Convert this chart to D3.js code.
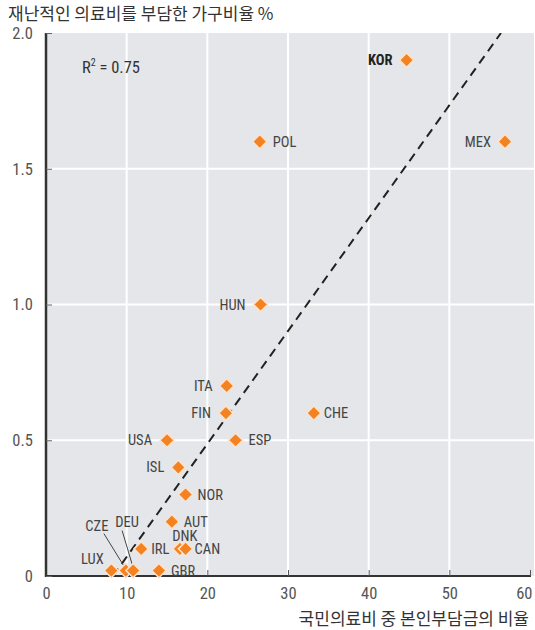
<!DOCTYPE html>
<html><head><meta charset="utf-8">
<script src="https://cdn.jsdelivr.net/npm/d3@7"></script>
<style>body{margin:0;background:#fff}svg{display:block}</style>
</head><body>
<script>
const countries = ["KOR","POL","MEX","HUN","ITA","FIN","CHE","USA","ESP","ISL","NOR","AUT","IRL","DNK","CAN","LUX","CZE","DEU","GBR"];
const oopShare = [44.7,26.5,56.9,26.6,22.4,22.3,33.2,15.0,23.5,16.4,17.3,15.6,11.8,16.6,17.3,8.1,9.9,10.8,14.0];
const catastrophic = [1.90,1.60,1.60,1.00,0.70,0.60,0.60,0.50,0.50,0.40,0.30,0.20,0.10,0.10,0.10,0.02,0.02,0.02,0.02];
const xTicks = [0,10,20,30,40,50,60];
const yTicks = [0,0.5,1.0,1.5,2.0];
const yTickLabels = ["0","0.5","1.0","1.5","2.0"];
const fitX = [8.3,56.4];
const fitY = [0,2.0];
const r2Text = "0.75";
const yTitle = "재난적인 의료비를 부담한 가구비율 %";
const xTitle = "국민의료비 중 본인부담금의 비율";

// label placement (style only)
const place = {
  KOR:{dx:-14,dy:5,a:"end",bold:true}, POL:{dx:13,dy:5,a:"start"}, MEX:{dx:-14,dy:5,a:"end"},
  HUN:{dx:-15,dy:5,a:"end"}, ITA:{dx:-14,dy:5,a:"end"}, FIN:{dx:-15,dy:5,a:"end"},
  CHE:{dx:10,dy:5,a:"start"}, USA:{dx:-15,dy:5,a:"end"}, ESP:{dx:13,dy:5,a:"start"},
  ISL:{dx:-14,dy:5,a:"end"}, NOR:{dx:12,dy:5,a:"start"}, AUT:{dx:12,dy:5,a:"start"},
  IRL:{dx:10,dy:5,a:"start"}, DNK:{dx:5,dy:-8,a:"middle"}, CAN:{dx:9,dy:5,a:"start"},
  LUX:{dx:-19,dy:-7,a:"middle"}, CZE:{dx:-29,dy:-40,a:"middle"}, DEU:{dx:-6,dy:-44,a:"middle"},
  GBR:{dx:12,dy:5,a:"start"}
};
const leaders = {CZE:[[-22,-37],[-1,-3]], DEU:[[-11,-40],[0,-3]]};

const W=535,H=630;
const svg=d3.select("body").append("svg").attr("width",W).attr("height",H);
const x=d3.scaleLinear().domain([0,60]).range([46,530]);
const y=d3.scaleLinear().domain([0,2]).range([576,33]);
const narrow="'Liberation Sans Narrow','Arial Narrow','Roboto Condensed',sans-serif";
const kr="'Noto Sans CJK KR',sans-serif";

svg.append("rect").attr("x",46).attr("y",33).attr("width",488).attr("height",543).attr("fill","#e4e6e9");

// grid
svg.append("g").selectAll("line").data(xTicks.filter(d=>d>0&&d<60)).join("line")
  .attr("x1",d=>x(d)).attr("x2",d=>x(d)).attr("y1",33).attr("y2",576)
  .attr("stroke","#fff").attr("stroke-width",2);
svg.append("g").selectAll("line").data(yTicks.filter(d=>d>0&&d<2)).join("line")
  .attr("x1",46).attr("x2",534).attr("y1",d=>y(d)).attr("y2",d=>y(d))
  .attr("stroke","#fff").attr("stroke-width",2);

// axes
const xAxis=d3.axisBottom(x).tickValues(xTicks).tickSize(-6).tickPadding(11).tickFormat(d3.format("d"));
const gx=svg.append("g").attr("transform","translate(0,576)").call(xAxis);
gx.select(".domain").attr("stroke","#333").attr("stroke-width",2).attr("d","M46,0H531");
gx.selectAll(".tick line").attr("stroke","#555");
gx.selectAll("text").attr("font-family",narrow).attr("font-size",16.5).attr("fill","#555")
  .attr("text-anchor",d=>d===60?"end":"middle").attr("dx",d=>d===60?"2":"0");

const yAxis=d3.axisLeft(y).tickValues(yTicks).tickSize(-6).tickPadding(13).tickFormat((d,i)=>yTickLabels[i]);
const gy=svg.append("g").attr("transform","translate(46,0)").call(yAxis);
gy.select(".domain").attr("stroke","#333").attr("stroke-width",2.5).attr("d","M0,33V577");
gy.selectAll(".tick line").attr("stroke","#666");
gy.selectAll("text").attr("font-family",narrow).attr("font-size",16.5).attr("fill","#555");

// fit line
svg.append("clipPath").attr("id","plotclip").append("rect").attr("x",46).attr("y",33).attr("width",488).attr("height",543);
svg.append("line").attr("clip-path","url(#plotclip)")
  .attr("x1",x(fitX[0])).attr("y1",y(fitY[0])).attr("x2",x(fitX[1])).attr("y2",y(fitY[1]))
  .attr("stroke","#222").attr("stroke-width",2).attr("stroke-dasharray","9,6");

// R2
const r2=svg.append("text").attr("x",82).attr("y",73).attr("font-family",narrow).attr("font-size",16.5).attr("fill","#333");
r2.append("tspan").text("R");
r2.append("tspan").attr("font-size",10).attr("dy",-7).text("2");
r2.append("tspan").attr("dy",7).text(" = "+r2Text);

const data=countries.map((c,i)=>({c,x:oopShare[i],y:catastrophic[i]}));

// leaders
Object.entries(leaders).forEach(([c,l])=>{
  const d=data.find(e=>e.c===c);
  svg.append("line").attr("x1",x(d.x)+l[0][0]).attr("y1",y(d.y)+l[0][1])
    .attr("x2",x(d.x)+l[1][0]).attr("y2",y(d.y)+l[1][1]).attr("stroke","#444").attr("stroke-width",1);
});

// diamonds
const sym=d3.symbol().type(d3.symbolDiamond2).size(130);
svg.append("g").selectAll("path").data(data).join("path")
  .attr("d",sym).attr("transform",d=>`translate(${x(d.x)},${y(d.y)})`)
  .attr("fill","#f58220").attr("stroke","#fbe3cf").attr("stroke-width",1.5);

// labels
svg.append("g").selectAll("text").data(data).join("text")
  .attr("x",d=>x(d.x)+place[d.c].dx).attr("y",d=>y(d.y)+place[d.c].dy)
  .attr("text-anchor",d=>place[d.c].a)
  .attr("font-family",narrow).attr("font-size",14.5)
  .attr("font-weight",d=>place[d.c].bold?"bold":"normal")
  .attr("fill",d=>place[d.c].bold?"#222":"#444")
  .text(d=>d.c);

// titles
svg.append("text").attr("x",8).attr("y",20).attr("font-family",kr).attr("font-size",17).attr("fill","#333").text(yTitle);
svg.append("text").attr("x",529).attr("y",625).attr("text-anchor","end").attr("font-family",kr).attr("font-size",17).attr("fill","#333").text(xTitle);
</script>
</body></html>
